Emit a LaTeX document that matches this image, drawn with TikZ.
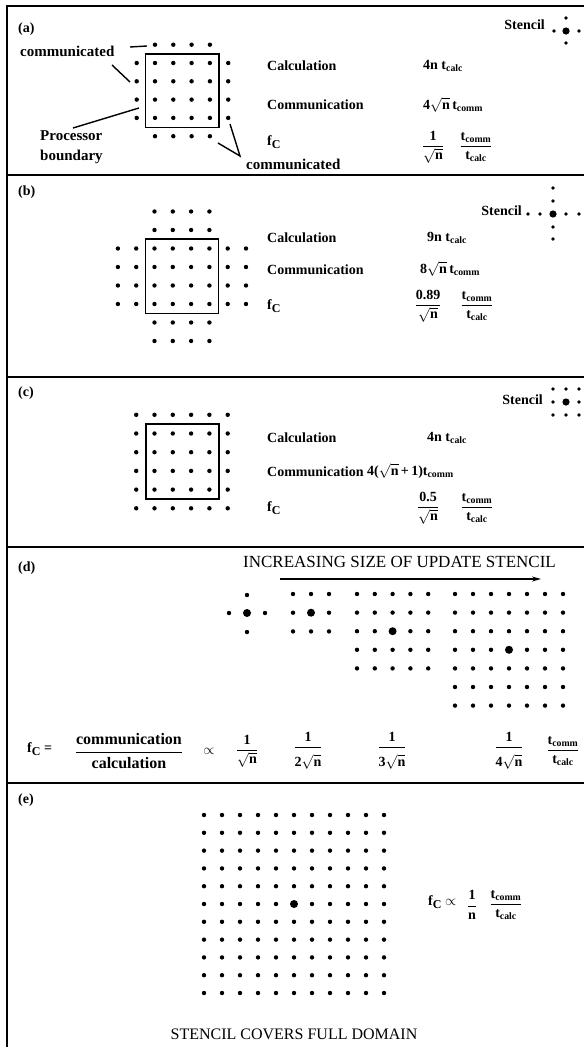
\documentclass[tikz,border=0pt]{standalone}
\usepackage{amsmath}
\usepackage{fontspec}
\setmainfont{Liberation Serif}
\usetikzlibrary{arrows.meta}
\newcommand{\fC}{f\raisebox{-0.45ex}{\fontsize{12}{12}\selectfont C}}
\newcommand{\tsub}[1]{t\textsubscript{#1}}
\newcommand{\sqn}{$\sqrt{\text{n}}$}
\newcommand{\tfr}{$\dfrac{\text{t}_{\text{comm}}}{\text{t}_{\text{calc}}}$}
\newcommand{\ofr}[1]{$\dfrac{\text{#1}}{\sqrt{\text{n}}}$}
\newcommand{\kfr}[1]{$\dfrac{\text{1}}{\rule{0pt}{1.2em}\text{#1}\sqrt{\text{n}}}$}
\begin{document}
\begin{tikzpicture}[x=1pt,y=-1pt,
  plabel/.style={font=\bfseries\fontsize{14}{16}\selectfont, anchor=west, inner sep=0pt},
  lbl/.style={font=\bfseries\fontsize{14}{20}\selectfont, anchor=west, inner sep=0pt},
  plbl/.style={font=\bfseries\fontsize{15}{20}\selectfont, anchor=west, inner sep=0pt, align=left},
  val/.style={font=\bfseries\fontsize{14}{16}\selectfont, inner sep=0pt},
  caps/.style={font=\fontsize{17}{19}\selectfont, inner sep=0pt},
  frameline/.style={line width=1.8pt},
  boxline/.style={line width=1.4pt},
  ptr/.style={line width=1.4pt},
  arr/.style={line width=1.4pt,-{Stealth[length=9pt,width=5pt]}},
  sd/.style={fill=black},
]
\useasboundingbox (0,0) rectangle (584,1047);
% ---------- frame ----------
\coordinate (TL) at (7,6); \coordinate (TR) at (584,6); \coordinate (BL) at (7,1047);
\draw[frameline] (TR) -- (TL) -- (BL);
\foreach \yy in {175,377,547,783}{\draw[frameline] (7,\yy) -- (584,\yy);}
% ---------- (a) ----------
\node[plabel] (la) at (18,29) {(a)};
\foreach \i in {0,...,3}{\foreach \j in {0,...,3}{\fill[sd] ({155+\i*18.3},{63+\j*18.3}) circle (2.2pt);}}
\foreach \i in {0,...,3}{
  \fill[sd] ({155+\i*18.3},{63-18.3}) circle (2.2pt);
  \fill[sd] ({155+\i*18.3},{63+4*18.3}) circle (2.2pt);
  \fill[sd] ({155-18.3},{63+\i*18.3}) circle (2.2pt);
  \fill[sd] ({155+4*18.3},{63+\i*18.3}) circle (2.2pt);}
\draw[boxline] (145.5,54) rectangle (219,127.5);
\node[plbl] (aComTop) at (20,51) {communicated};
\node[plbl] (aProc) at (40,147) {Processor\\boundary};
\node[plbl] (aComBot) at (246,164) {communicated};
\coordinate (pA1) at (130,47); \coordinate (pA2) at (147,46);
\coordinate (pB1) at (112,65); \coordinate (pB2) at (130,82);
\coordinate (pC1) at (73,128); \coordinate (pC2) at (139,108);
\coordinate (pV) at (240,156); \coordinate (pV1) at (218,143); \coordinate (pV2) at (230,124);
\draw[ptr] (pA1) -- (pA2);
\draw[ptr] (pB1) -- (pB2);
\draw[ptr] (pC1) -- (pC2);
\draw[ptr] (pV1) -- (pV) -- (pV2);
\node[lbl] (aCalc) at (267,66) {Calculation};
\node[lbl] (aComm) at (267,105) {Communication};
\node[lbl] (afC) at (267,142) {\fC};
\node[val,anchor=west] (aCalcV) at (423,66) {4n \tsub{calc}};
\node[val,anchor=west] (aCommV) at (423,105) {4\sqn\,\tsub{comm}};
\node[val] (aF1) at (433,147) {\ofr{1}};
\node[val] (aF2) at (476,147) {\tfr};
\node[lbl,anchor=east] (aSt) at (545,25) {Stencil};
\fill[sd] (566,31) circle (3.6pt);
\foreach \p in {(554,31),(579,31),(566,18),(566,43)}{\fill[sd] \p circle (1.8pt);}
% ---------- (b) ----------
\node[plabel] (lb) at (18,192) {(b)};
\foreach \i in {0,...,3}{\foreach \j in {0,...,3}{\fill[sd] ({154.5+\i*18.3},{248.5+\j*18.5}) circle (2.2pt);}}
\foreach \i in {0,...,3}{\foreach \k in {-2,-1,4,5}{
  \fill[sd] ({154.5+\i*18.3},{248.5+\k*18.5}) circle (2.2pt);
  \fill[sd] ({154.5+\k*18.3},{248.5+\i*18.5}) circle (2.2pt);}}
\draw[boxline] (145.5,239) rectangle (218.5,313.5);
\node[lbl] (bCalc) at (267,238) {Calculation};
\node[lbl] (bComm) at (267,270) {Communication};
\node[lbl] (bfC) at (267,306) {\fC};
\node[val,anchor=west] (bCalcV) at (427,238) {9n \tsub{calc}};
\node[val,anchor=west] (bCommV) at (420,269) {8\sqn\,\tsub{comm}};
\node[val] (bF1) at (428,306) {\ofr{0.89}};
\node[val] (bF2) at (477,306) {\tfr};
\node[lbl,anchor=east] (bSt) at (522,211) {Stencil};
\fill[sd] (553,214) circle (3.6pt);
\foreach \p in {(528,214),(540,214),(566,214),(579,214),(553,188),(553,201),(553,227),(553,239)}{\fill[sd] \p circle (1.8pt);}
% ---------- (c) ----------
\node[plabel] (lc) at (18,393) {(c)};
\foreach \i in {0,...,3}{\foreach \j in {0,...,3}{\fill[sd] ({154.5+\i*18.3},{433.5+\j*18.7}) circle (2.2pt);}}
\foreach \i in {-1,...,4}{
  \fill[sd] ({154.5+\i*18.3},{433.5-18.7}) circle (2.2pt);
  \fill[sd] ({154.5+\i*18.3},{433.5+4*18.7}) circle (2.2pt);}
\foreach \j in {0,...,3}{
  \fill[sd] ({154.5-18.3},{433.5+\j*18.7}) circle (2.2pt);
  \fill[sd] ({154.5+4*18.3},{433.5+\j*18.7}) circle (2.2pt);}
\draw[boxline] (146,424) rectangle (219,499);
\node[lbl] (cCalc) at (267,438) {Calculation};
\node[lbl] (cComm) at (267,472) {Communication};
\node[lbl] (cfC) at (267,508) {\fC};
\node[val,anchor=west] (cCalcV) at (427,438) {4n \tsub{calc}};
\node[val,anchor=west] (cCommV) at (367,471) {4(\sqn\,+\,1)\tsub{comm}};
\node[val] (cF1) at (428,508) {\ofr{0.5}};
\node[val] (cF2) at (477,508) {\tfr};
\node[lbl,anchor=east] (cSt) at (543,400) {Stencil};
\foreach \i in {-1,0,1}{\foreach \j in {-1,0,1}{\fill[sd] ({566+\i*13},{402+\j*13}) circle (1.8pt);}}
\fill[sd] (566,402) circle (3.6pt);
% ---------- (d) ----------
\node[plabel] (ld) at (18,568) {(d)};
\node[caps,anchor=west] (dInc) at (243,562) {INCREASING SIZE OF UPDATE STENCIL};
\coordinate (arrS) at (280,579); \coordinate (arrE) at (541,579);
\draw[arr] (arrS) -- (arrE);
% cross
\fill[sd] (247,613) circle (4pt);
\foreach \p in {(229,613),(265,613),(247,595),(247,632)}{\fill[sd] \p circle (2.2pt);}
% 3x3
\foreach \i in {0,1,2}{\foreach \j in {0,1,2}{\fill[sd] ({293+\i*18},{594+\j*18.7}) circle (2.2pt);}}
\fill[sd] (311,612.7) circle (4pt);
% 5x5
\foreach \i in {0,...,4}{\foreach \j in {0,...,4}{\fill[sd] ({357+\i*17.8},{594+\j*18.6}) circle (2.2pt);}}
\fill[sd] (392.6,631.2) circle (4pt);
% 7x7
\foreach \i in {0,...,6}{\foreach \j in {0,...,6}{\fill[sd] ({455+\i*18},{594+\j*18.6}) circle (2.2pt);}}
\fill[sd] (509,649.8) circle (4pt);
\node[lbl] (dfC) at (27,749) {\fC\ =};
\node[val,font=\bfseries\fontsize{16}{18}\selectfont] (dFr) at (129,751) {$\dfrac{\text{communication}}{\text{calculation}}$};
\node[val] (dProp) at (209,751) {$\propto$};
\node[val] (dF1) at (247,751) {\ofr{1}};
\node[val] (dF2) at (308,751) {\kfr{2}};
\node[val] (dF3) at (392,751) {\kfr{3}};
\node[val] (dF4) at (509,751) {\kfr{4}};
\node[val] (dF5) at (563,751) {\tfr};
% ---------- (e) ----------
\node[plabel] (le) at (18,800) {(e)};
\foreach \i in {0,...,10}{\foreach \j in {0,...,10}{\fill[sd] ({204+\i*18},{815+\j*17.8}) circle (2.2pt);}}
\fill[sd] (294,904) circle (4pt);
\node[lbl] (efC) at (428,902) {\fC\ $\propto$};
\node[val] (eF1) at (472,905) {$\dfrac{\text{1}}{\text{n}}$};
\node[val] (eF2) at (506,905) {\tfr};
\node[caps,font=\fontsize{16}{18}\selectfont] (eCap) at (294,1034) {STENCIL COVERS FULL DOMAIN};
\end{tikzpicture}
\end{document}
